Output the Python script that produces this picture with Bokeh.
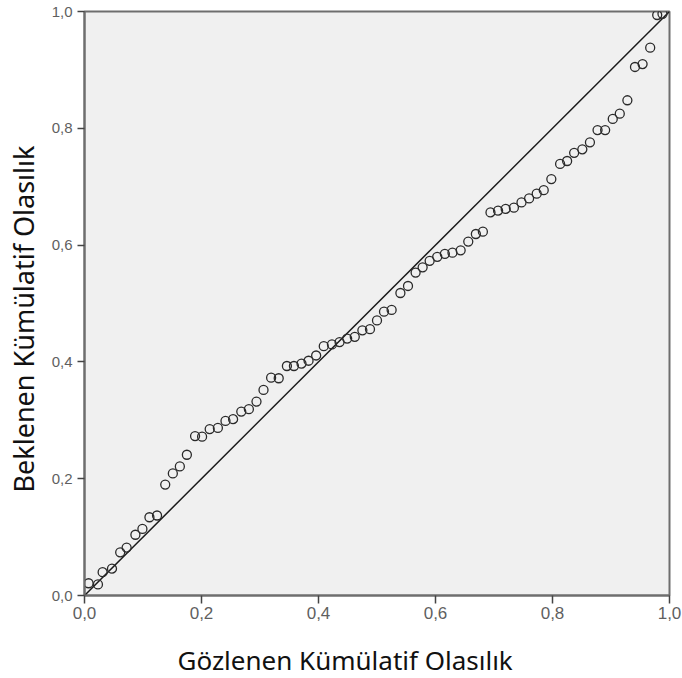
from bokeh.plotting import figure
from bokeh.embed import file_html
from bokeh.resources import INLINE
from bokeh.models import FixedTicker, CustomJSTickFormatter, Title, Range1d

# Observed (x) vs expected (y) cumulative probability
observed = [0.007, 0.023, 0.031, 0.047, 0.061, 0.072, 0.087, 0.099, 0.111, 0.124,
            0.138, 0.151, 0.163, 0.175, 0.189, 0.201, 0.214, 0.228, 0.241, 0.254,
            0.268, 0.281, 0.294, 0.306, 0.319, 0.332, 0.346, 0.358, 0.371, 0.383,
            0.396, 0.409, 0.423, 0.436, 0.449, 0.462, 0.475, 0.488, 0.500, 0.512,
            0.525, 0.540, 0.553, 0.566, 0.578, 0.590, 0.603, 0.616, 0.629, 0.643,
            0.656, 0.669, 0.681, 0.694, 0.707, 0.720, 0.734, 0.747, 0.760, 0.773,
            0.785, 0.798, 0.813, 0.825, 0.837, 0.851, 0.864, 0.877, 0.890, 0.903,
            0.915, 0.928, 0.941, 0.954, 0.967, 0.979, 0.988]
expected = [0.021, 0.019, 0.040, 0.046, 0.074, 0.082, 0.104, 0.114, 0.134, 0.137,
            0.190, 0.209, 0.221, 0.241, 0.273, 0.272, 0.285, 0.287, 0.299, 0.302,
            0.315, 0.319, 0.332, 0.352, 0.373, 0.372, 0.393, 0.393, 0.397, 0.402,
            0.411, 0.427, 0.430, 0.434, 0.440, 0.443, 0.454, 0.456, 0.471, 0.486,
            0.489, 0.518, 0.530, 0.553, 0.562, 0.573, 0.580, 0.585, 0.587, 0.591,
            0.606, 0.619, 0.623, 0.656, 0.659, 0.662, 0.664, 0.673, 0.680, 0.688,
            0.694, 0.713, 0.739, 0.744, 0.758, 0.764, 0.776, 0.797, 0.797, 0.816,
            0.825, 0.848, 0.905, 0.910, 0.938, 0.994, 0.996]
ref_line = [0.0, 1.0]
ticks = [0.0, 0.2, 0.4, 0.6, 0.8, 1.0]

x_title = "Gözlenen Kümülatif  Olasılık"
y_title = "Beklenen Kümülatif  Olasılık"

p = figure(frame_width=585, frame_height=584, output_backend="svg",
           toolbar_location=None, x_range=Range1d(0, 1), y_range=Range1d(0, 1),
           min_border_left=84, min_border_top=11, min_border_right=13,
           min_border_bottom=6)
p.background_fill_color = "#f0f0f0"
p.border_fill_color = "white"
p.outline_line_color = "#6e6e6e"
p.outline_line_width = 2
p.xgrid.visible = False
p.ygrid.visible = False

p.line(ref_line, ref_line, line_color="#1a1a1a", line_width=1.5)
p.scatter(observed, expected, marker="circle", size=9, fill_color=None,
          line_color="#2a2a2a", line_width=1.3)

fmt = CustomJSTickFormatter(code="return tick.toFixed(1).replace('.', ',');")
for ax in (p.xaxis[0], p.yaxis[0]):
    ax.ticker = FixedTicker(ticks=ticks)
    ax.formatter = fmt
    ax.axis_line_color = "#6e6e6e"
    ax.axis_line_width = 2
    ax.major_tick_line_color = "#444444"
    ax.major_tick_line_width = 1.5
    ax.minor_tick_line_color = None
    ax.major_tick_in = 0
    ax.major_label_text_font = "Liberation Sans"
    ax.major_label_text_color = "#5f5f5f"

p.xaxis[0].major_tick_out = 8
p.xaxis[0].major_label_standoff = 3
p.xaxis[0].major_label_text_font_size = "17px"
p.yaxis[0].major_tick_out = 7
p.yaxis[0].major_label_standoff = 5
p.yaxis[0].major_label_text_font_size = "15px"

ty = Title(text=y_title, align="left", offset=103, standoff=9,
           vertical_align="top",
           text_font="Noto Sans", text_font_size="27px",
           text_font_style="normal", text_color="#111111")
p.add_layout(ty, "left")

tx = Title(text=x_title, align="left", offset=93, standoff=37,
           text_font="Noto Sans", text_font_size="26px",
           text_font_style="normal", text_color="#111111")
p.add_layout(tx, "below")

open("out.html", "w").write(file_html(p, INLINE))
